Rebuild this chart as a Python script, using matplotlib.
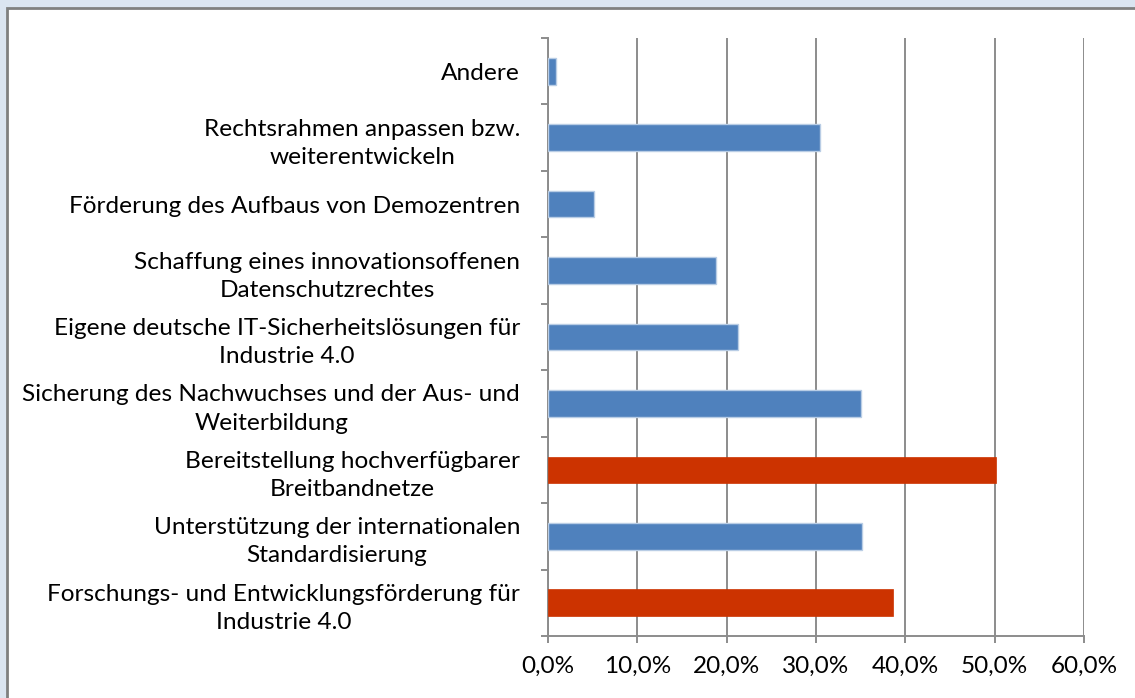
import matplotlib.pyplot as plt
from matplotlib.patches import Rectangle

# categories from bottom to top
categories = [
    "Forschungs- und Entwicklungsförderung für\nIndustrie 4.0",
    "Unterstützung der internationalen\nStandardisierung",
    "Bereitstellung hochverfügbarer\nBreitbandnetze",
    "Sicherung des Nachwuchses und der Aus- und\nWeiterbildung",
    "Eigene deutsche IT-Sicherheitslösungen für\nIndustrie 4.0",
    "Schaffung eines innovationsoffenen\nDatenschutzrechtes",
    "Förderung des Aufbaus von Demozentren",
    "Rechtsrahmen anpassen bzw.\nweiterentwickeln",
    "Andere",
]
values = [38.6, 35.2, 50.2, 35.0, 21.3, 18.8, 5.2, 30.5, 0.9]
highlight = [True, False, True, False, False, False, False, False, False]
xticks = [0, 10, 20, 30, 40, 50, 60]
xlabels = ["0,0%", "10,0%", "20,0%", "30,0%", "40,0%", "50,0%", "60,0%"]

blue = "#4f81bd"
red = "#cc3300"
grid = "#8c8c8c"

plt.rcParams['font.family'] = ['Lato', 'DejaVu Sans']

fig = plt.figure(figsize=(11.35, 6.98), dpi=100, facecolor="#dbe5f1")
frame = Rectangle((7 / 1135, -0.1), 1.2, 1.1 - 8 / 698, transform=fig.transFigure,
                  facecolor="white", edgecolor="#808080", linewidth=2, zorder=0)
fig.add_artist(frame)

ax = fig.add_axes([548 / 1135, 1 - 636 / 698, (1084 - 548) / 1135, (636 - 38) / 698])
ax.set_facecolor("none")

ypos = list(range(len(categories)))
for y, v, h in zip(ypos, values, highlight):
    if h:
        ax.barh(y, v, height=0.4, color=red, edgecolor=red, linewidth=0.5, zorder=3)
    else:
        ax.barh(y, v, height=0.4, color=blue, edgecolor="#b9cde5", linewidth=1, zorder=3)

ax.set_xlim(0, 60)
ax.set_ylim(-0.5, len(categories) - 0.5)
ax.set_xticks(xticks)
ax.set_xticklabels(xlabels, fontsize=17.5)
ax.xaxis.grid(True, color=grid, linewidth=1.4, zorder=1)
ax.set_axisbelow(True)

ax.set_yticks([i - 0.5 for i in range(len(categories) + 1)])
ax.set_yticklabels([])
ax.set_yticks(ypos, minor=True)
ax.set_yticklabels(categories, minor=True, fontsize=17.6, multialignment="center", linespacing=1.42)
ax.tick_params(axis="y", which="minor", length=0, pad=20)
ax.tick_params(axis="y", which="major", length=5, color=grid, width=1.4, direction="out")
ax.tick_params(axis="x", length=5, color=grid, width=1.4, pad=9, direction="out")

for s in ["top", "right"]:
    ax.spines[s].set_visible(False)
for s in ["left", "bottom"]:
    ax.spines[s].set_color(grid)
    ax.spines[s].set_linewidth(1.4)

fig.savefig("out.png", dpi=100, facecolor=fig.get_facecolor())
